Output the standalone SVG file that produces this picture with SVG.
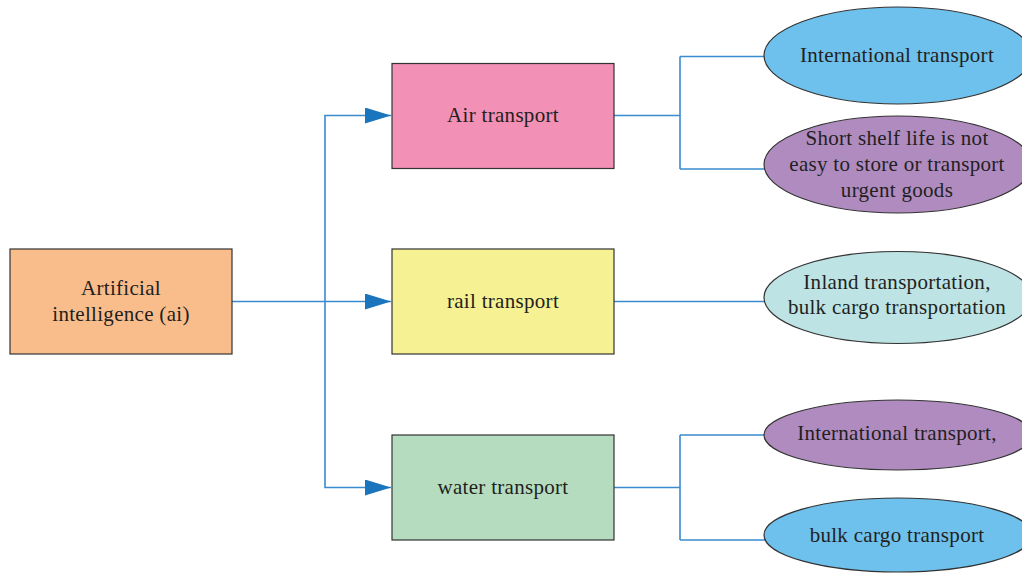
<svg xmlns="http://www.w3.org/2000/svg" width="1022" height="573" viewBox="0 0 1022 573">
<style>
.box{stroke:#333;stroke-width:1.2}
.ell{stroke:#333;stroke-width:1.2}
.ln{fill:none;stroke:#3a8ad0;stroke-width:1.6}
text{font-family:"Liberation Serif",serif;font-size:21px;letter-spacing:0.3px;fill:#231f20;text-anchor:middle}
</style>
<defs>
<marker id="ah" markerWidth="26" markerHeight="16" viewBox="0 0 26 16" refX="26" refY="8" orient="auto" markerUnits="userSpaceOnUse">
<path d="M0,0 L26,8 L0,16 Z" fill="#1b75bc"/>
</marker>
</defs>
<rect width="1022" height="573" fill="#fff"/>
<g id="connectors">
<path class="ln" d="M232,301.5 H391" marker-end="url(#ah)"/>
<path class="ln" d="M325,301.5 V115.5 H391" marker-end="url(#ah)"/>
<path class="ln" d="M325,301.5 V487.5 H391" marker-end="url(#ah)"/>
<path class="ln" d="M614,115.5 H680 M680,56.5 V169 M680,56.5 H765 M680,169 H765"/>
<path class="ln" d="M614,301.5 H765"/>
<path class="ln" d="M614,487.5 H680 M680,435 V540 M680,435 H765 M680,540 H765"/>
</g>
<g id="ai"><rect class="box" x="10" y="249" width="222" height="105" fill="#f9bd8c"/>
<text x="121" y="295">Artificial</text><text x="121" y="321">intelligence (ai)</text></g>
<g id="air"><rect class="box" x="392" y="63.5" width="222" height="105" fill="#f290b5"/>
<text x="503" y="122">Air transport</text></g>
<g id="rail"><rect class="box" x="392" y="249" width="222" height="105" fill="#f6f193"/>
<text x="503" y="308">rail transport</text></g>
<g id="water"><rect class="box" x="392" y="435" width="222" height="105" fill="#b5dcbf"/>
<text x="503" y="494">water transport</text></g>
<g id="e1"><ellipse class="ell" cx="898" cy="55.5" rx="134" ry="48.5" fill="#6ec1ec"/>
<text x="897" y="62">International transport</text></g>
<g id="e2"><ellipse class="ell" cx="898" cy="164.5" rx="134" ry="48.5" fill="#b08bc0"/>
<text x="897" y="145">Short shelf life is not</text><text x="897" y="171">easy to store or transport</text><text x="897" y="197">urgent goods</text></g>
<g id="e3"><ellipse class="ell" cx="898" cy="297.5" rx="134" ry="46" fill="#bde3e4"/>
<text x="897" y="289">Inland transportation,</text><text x="897" y="314">bulk cargo transportation</text></g>
<g id="e4"><ellipse class="ell" cx="898" cy="435" rx="134" ry="35" fill="#b08bc0"/>
<text x="897" y="440">International transport,</text></g>
<g id="e5"><ellipse class="ell" cx="898" cy="535" rx="134" ry="37" fill="#6ec1ec"/>
<text x="897" y="542">bulk cargo transport</text></g>
</svg>
